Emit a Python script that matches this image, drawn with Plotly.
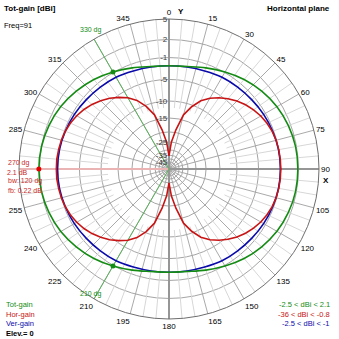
import numpy as np
import plotly.graph_objects as go

# ---------------- data ----------------
tot_angles = list(range(0, 360, 10))
tot_gain = [-2.5, -2.35, -1.7, -0.9, -0.1, 0.6, 1.2, 1.6, 1.85, 1.9, 1.85, 1.6,
            1.2, 0.6, -0.1, -0.9, -1.7, -2.35, -2.5, -2.35, -1.7, -0.9, -0.1, 0.6,
            1.25, 1.7, 2.0, 2.1, 2.0, 1.7, 1.25, 0.6, -0.1, -0.9, -1.7, -2.35]
ver_gain = [-2.5, -2.45, -2.3, -2.0, -1.85, -1.65, -1.4, -1.2, -1.05, -1.0, -1.05, -1.2,
            -1.4, -1.65, -1.85, -2.0, -2.3, -2.45, -2.5, -2.45, -2.3, -2.0, -1.85, -1.65,
            -1.4, -1.2, -1.05, -1.0, -1.05, -1.2, -1.4, -1.65, -1.85, -2.0, -2.3, -2.45]

hor_angles = list(range(0, 360, 5))
hor_gain = [-36, -25, -19, -13.5, -10.5, -8.3, -6.8, -5.6, -4.6, -3.8, -3.1, -2.5,
            -2.0, -1.6, -1.3, -1.1, -1.0, -0.95, -0.95, -0.95, -1.0, -1.1, -1.3, -1.6,
            -2.0, -2.5, -3.1, -3.8, -4.6, -5.6, -6.8, -8.3, -10.5, -13.5, -19, -25,
            -35, -25, -19, -13.5, -10.4, -8.2, -6.7, -5.5, -4.5, -3.7, -3.0, -2.4,
            -1.9, -1.5, -1.2, -1.0, -0.9, -0.8, -0.8, -0.8, -0.9, -1.0, -1.2, -1.5,
            -1.9, -2.4, -3.0, -3.7, -4.5, -5.5, -6.7, -8.2, -10.4, -13.5, -19, -25]

ring_db = [5, 2, -1, -5, -10, -15, -20, -25, -30, -35, -40, -45]
radial_labels_db = [5, 2, -1, -5, -10, -15, -25, -35, -45]
angle_ticks = list(range(0, 360, 15))
beam_angles = [330, 210]
cursor_angle = 270
cursor_gain = 2.1

# ARRL-like compressed radial scale (dB -> fraction of outer radius)
scale_db = [-70, -45, -40, -35, -30, -25, -20, -15, -10, -5, -1, 2, 5]
scale_r = [0.0, 0.047, 0.068, 0.093, 0.127, 0.18, 0.247, 0.34, 0.453, 0.597, 0.743, 0.863, 1.0]


def rad(db):
    return np.interp(db, scale_db, scale_r)


GREEN = "rgb(20,140,20)"
RED = "rgb(200,20,20)"
BLUE = "rgb(10,10,170)"
FONT = "Liberation Sans"

fig = go.Figure()

# light 5-degree spokes in the outer region
sp_t, sp_r = [], []
for a in range(0, 360, 5):
    if a % 15:
        sp_t += [a, a, None]
        sp_r += [float(rad(-12)), 1.0, None]
fig.add_trace(go.Scatterpolar(r=sp_r, theta=sp_t, mode="lines",
                              line=dict(color="rgb(215,215,215)", width=1),
                              hoverinfo="skip", connectgaps=False))

# main axes lines
fig.add_trace(go.Scatterpolar(r=[1, 0, 1], theta=[0, 0, 180], mode="lines",
                              line=dict(color="rgb(150,150,150)", width=2), hoverinfo="skip"))
fig.add_trace(go.Scatterpolar(r=[0, 1], theta=[90, 90], mode="lines",
                              line=dict(color="rgb(150,150,150)", width=2), hoverinfo="skip"))
fig.add_trace(go.Scatterpolar(r=[0, 1], theta=[cursor_angle, cursor_angle], mode="lines",
                              line=dict(color="rgb(235,180,180)", width=2), hoverinfo="skip"))

# beamwidth lines
for b in beam_angles:
    fig.add_trace(go.Scatterpolar(r=[0, 1], theta=[b, b], mode="lines",
                                  line=dict(color="rgb(90,180,90)", width=1), hoverinfo="skip"))

# curves
fig.add_trace(go.Scatterpolar(r=rad(ver_gain + ver_gain[:1]), theta=tot_angles + tot_angles[:1],
                              mode="lines", line=dict(color=BLUE, width=1.6, shape="spline"),
                              name="Ver-gain"))
fig.add_trace(go.Scatterpolar(r=rad(tot_gain + tot_gain[:1]), theta=tot_angles + tot_angles[:1],
                              mode="lines", line=dict(color=GREEN, width=1.6, shape="spline"),
                              name="Tot-gain"))
fig.add_trace(go.Scatterpolar(r=rad(hor_gain + hor_gain[:1]), theta=hor_angles + hor_angles[:1],
                              mode="lines", line=dict(color=RED, width=1.6),
                              name="Hor-gain"))

# markers
bw_vals = [tot_gain[tot_angles.index(b)] for b in beam_angles]
fig.add_trace(go.Scatterpolar(r=rad(bw_vals), theta=beam_angles, mode="markers",
                              marker=dict(color=GREEN, size=5)))
fig.add_trace(go.Scatterpolar(r=rad([cursor_gain]), theta=[cursor_angle], mode="markers",
                              marker=dict(color="rgb(230,0,0)", size=5)))

ang_text = [("" if a in (270, 330) else str(a)) for a in angle_ticks]
ring_text = [(str(v) if v in radial_labels_db else "") for v in ring_db]

fig.update_layout(
    width=339, height=339,
    margin=dict(l=0, r=0, t=0, b=0),
    paper_bgcolor="white",
    showlegend=False,
    polar=dict(
        domain=dict(x=[19 / 339, 319 / 339], y=[20 / 339, 320 / 339]),
        bgcolor="white",
        angularaxis=dict(rotation=90, direction="clockwise", tickmode="array",
                         tickvals=angle_ticks, ticktext=ang_text, ticks="",
                         showgrid=True, gridcolor="rgb(170,170,170)", gridwidth=1,
                         linecolor="rgb(110,110,110)", linewidth=1,
                         tickfont=dict(family=FONT, size=8, color="black")),
        radialaxis=dict(range=[0, 1], tickmode="array",
                        tickvals=list(rad(ring_db)),
                        ticktext=ring_text,
                        showline=False, ticks="", angle=90, tickangle=90,
                        side="counterclockwise",
                        gridcolor="rgb(165,165,165)", gridwidth=1,
                        tickfont=dict(family=FONT, size=8, color="rgb(60,60,60)")),
    ),
)


def px(x, y, text, color="black", size=8, bold=False, anchor="left"):
    t = f"<b>{text}</b>" if bold else text
    fig.add_annotation(x=x / 339, y=1 - y / 339, xref="paper", yref="paper", text=t,
                       showarrow=False, xanchor=anchor, yanchor="middle",
                       font=dict(family=FONT, size=size, color=color))


px(2, 8, "Tot-gain [dBi]", bold=True)
px(332, 8, "Horizontal plane", bold=True, anchor="right")
px(2, 25, "Freq=91", size=7.5)
px(176, 11, "Y", bold=True)
px(326, 180, "X", bold=True, anchor="center")
px(91, 30, f"{beam_angles[0]} dg", color=GREEN, size=7, anchor="center")
px(91, 294, f"{beam_angles[1]} dg", color=GREEN, size=7, anchor="center")
px(6, 163, f"{cursor_angle} dg", color="rgb(200,40,40)", size=7)
px(5, 172, f"{cursor_gain} dB", color="rgb(200,40,40)", size=7)
px(6, 181, "bw: 120 dg", color="rgb(200,40,40)", size=7)
px(6, 190, "fb: 0.22 dB", color="rgb(200,40,40)", size=7)
px(4, 304, "Tot-gain", color=GREEN, size=7.5)
px(4, 314, "Hor-gain", color=RED, size=7.5)
px(4, 323, "Ver-gain", color=BLUE, size=7.5)
px(4, 333, "Elev.= 0", bold=True, size=7.5)
px(332, 304, f"{min(tot_gain)} &lt; dBi &lt; {max(tot_gain)}", color=GREEN, size=7.5, anchor="right")
px(332, 314, f"{min(hor_gain)} &lt; dBi &lt; -0.8", color=RED, size=7.5, anchor="right")
px(332, 323, f"{min(ver_gain)} &lt; dBi &lt; {max(ver_gain):g}", color=BLUE, size=7.5, anchor="right")

fig.write_html("out.html")
